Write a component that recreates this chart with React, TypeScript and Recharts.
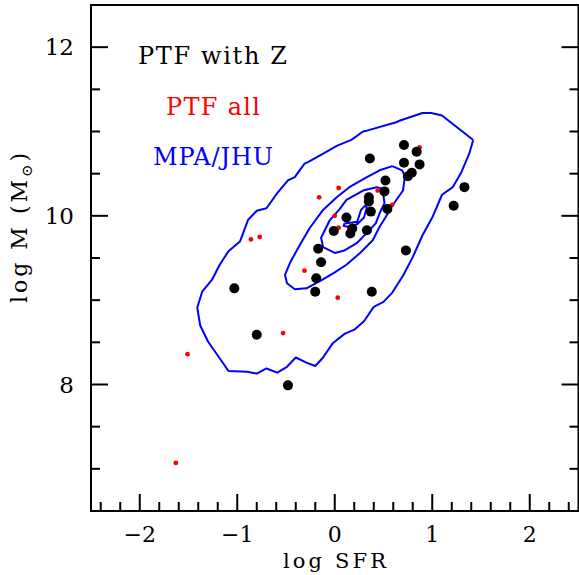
// Star-formation rate vs stellar mass: PTF hosts over the MPA/JHU density contours.

import { Scatter, ScatterChart, XAxis, YAxis } from "recharts";

// PTF hosts with a metallicity measurement (black)
const ptfZSfr = [0.71, 0.84, 0.36, 0.71, 0.87, 0.79, 0.75, 0.52, 0.51, 0.35, 0.35, 0.37, 0.54, 0.12, -0.01, 0.18, 0.16, 0.33, 1.33, 1.22, 0.73, -0.17, -0.14, -0.19, -0.2, 0.38, -1.03, -0.8, -0.48];
const ptfZMass = [10.84, 10.76, 10.68, 10.63, 10.61, 10.51, 10.47, 10.42, 10.29, 10.22, 10.17, 10.05, 10.08, 9.98, 9.82, 9.85, 9.79, 9.83, 10.34, 10.12, 9.59, 9.61, 9.45, 9.26, 9.1, 9.1, 9.14, 8.59, 7.99];

// all PTF hosts (red)
const ptfAllSfr = [0.87, 0.04, -0.16, 0.44, 0.59, 0.0, 0.04, -0.31, 0.03, -0.86, -0.77, -0.53, -1.51, -1.63];
const ptfAllMass = [10.81, 10.33, 10.22, 10.3, 10.13, 10.0, 9.86, 9.35, 9.03, 9.72, 9.75, 8.61, 8.36, 7.07];

// MPA/JHU density contours, [log SFR, log M]
const mpaOuter: [number, number][] = [
  [1.42, 10.9], [1.38, 10.74], [1.3, 10.52], [1.21, 10.34], [1.1, 10.25], [1.0, 9.98], [0.9, 9.77],
  [0.8, 9.51], [0.7, 9.29], [0.59, 9.09], [0.5, 8.98], [0.4, 8.92], [0.3, 8.75], [0.2, 8.65],
  [0.1, 8.6], [-0.02, 8.49], [-0.12, 8.32], [-0.2, 8.22], [-0.29, 8.26], [-0.4, 8.32], [-0.49, 8.21],
  [-0.59, 8.14], [-0.7, 8.19], [-0.8, 8.13], [-0.9, 8.15], [-1.09, 8.16], [-1.3, 8.51], [-1.38, 8.7],
  [-1.41, 8.91], [-1.36, 9.1], [-1.26, 9.24], [-1.18, 9.42], [-1.09, 9.58], [-0.97, 9.7], [-0.89, 9.95],
  [-0.8, 10.06], [-0.7, 10.09], [-0.59, 10.27], [-0.48, 10.42], [-0.41, 10.46], [-0.31, 10.62],
  [-0.27, 10.64], [-0.1, 10.75], [0.02, 10.83], [0.17, 10.9], [0.29, 11.0], [0.33, 11.01], [0.63, 11.11],
  [0.67, 11.13], [0.9, 11.22], [0.99, 11.22], [1.1, 11.19], [1.42, 10.9],
];
const mpaMiddle: [number, number][] = [
  [0.59, 10.59], [0.69, 10.54], [0.72, 10.47], [0.7, 10.3], [0.59, 10.12], [0.52, 9.98], [0.46, 9.87],
  [0.39, 9.71], [0.26, 9.56], [0.12, 9.42], [0.0, 9.33], [-0.13, 9.24], [-0.29, 9.14], [-0.41, 9.13],
  [-0.49, 9.2], [-0.51, 9.3], [-0.46, 9.44], [-0.38, 9.61], [-0.26, 9.85], [-0.12, 10.07], [0.02, 10.22],
  [0.15, 10.34], [0.33, 10.46], [0.46, 10.54], [0.59, 10.59],
];
const mpaInner: [number, number][] = [
  [0.29, 10.3], [0.43, 10.34], [0.49, 10.32], [0.51, 10.15], [0.46, 10.03], [0.42, 9.91], [0.34, 9.81],
  [0.23, 9.68], [0.1, 9.59], [0.0, 9.56], [-0.12, 9.63], [-0.14, 9.74], [-0.05, 9.95], [0.05, 10.08],
  [0.12, 10.19], [0.29, 10.3],
];
const mpaCore: [number, number][] = [
  [0.1, 9.91], [0.23, 9.93], [0.27, 10.07], [0.31, 10.12], [0.33, 10.1], [0.3, 9.98], [0.23, 9.9],
  [0.14, 9.87], [0.09, 9.88], [0.1, 9.91],
];

const sfrLabelled = [-2, -1, 0, 1, 2];
const massLabelled = [8, 10, 12];
const sfrTicks = Array.from({ length: 25 }, (_, i) => Math.round(-24 + i * 2) / 10);
const massTicks = Array.from({ length: 11 }, (_, i) => 7 + i * 0.5);

const INK = "#000";
const RED = "#ff0000";
const BLUE = "#0000ff";
const FONT = "'DejaVu Serif', serif";

const pts = (xs: number[], ys: number[]) => xs.map((x, i) => ({ x, y: ys[i] }));
const path = (p: [number, number][]) => p.map(([x, y]) => ({ x, y }));
const has = (list: number[], v: number) => list.some((t) => Math.abs(t - v) < 1e-6);
const fmt = (v: number) => (v < 0 ? `\u2212${Math.abs(v)}` : `${v}`);

const frame = { stroke: INK, strokeWidth: 2, strokeLinecap: "square" as const };

// inward ticks on both x sides, numbers only along the bottom
function XTick(props: any) {
  const { x, y, payload, side } = props;
  const major = has(sfrLabelled, payload.value);
  const len = major ? 17 : 9;
  const dir = side === "bottom" ? -1 : 1;
  return (
    <g>
      <line x1={x} y1={y} x2={x} y2={y + dir * len} stroke={INK} strokeWidth={2} />
      {side === "bottom" && major && (
        <text x={x} y={y + 31} textAnchor="middle" fontSize={22} fontFamily={FONT} fill={INK}>
          {fmt(payload.value)}
        </text>
      )}
    </g>
  );
}

function YTick(props: any) {
  const { x, y, payload, side } = props;
  const major = has(massLabelled, payload.value);
  const len = major ? 17 : 9;
  const dir = side === "left" ? 1 : -1;
  return (
    <g>
      <line x1={x} y1={y} x2={x + dir * len} y2={y} stroke={INK} strokeWidth={2} />
      {side === "left" && major && (
        <text x={x - 17} y={y + 8} textAnchor="end" fontSize={23} fontFamily={FONT} fill={INK}>
          {payload.value}
        </text>
      )}
    </g>
  );
}

const noDot = () => <g />;
const bigDot = (p: any) => <circle cx={p.cx} cy={p.cy} r={5} fill={INK} />;
const smallDot = (p: any) => <circle cx={p.cx} cy={p.cy} r={2.4} fill={RED} />;

export default function App() {
  const contourLine = { stroke: BLUE, strokeWidth: 2, strokeLinejoin: "round" as const };
  return (
    <div style={{ position: "absolute", left: 0, top: 0, width: 579, height: 575, overflow: "hidden", background: "#fff" }}>
      <ScatterChart width={580} height={575} margin={{ top: 4, right: 0.5, bottom: 63, left: 90 }}>
        <XAxis
          xAxisId="b" orientation="bottom" type="number" dataKey="x" domain={[-2.5, 2.5]} allowDataOverflow
          ticks={sfrTicks} interval={0} tickSize={0} tickMargin={0} height={1} tickLine={false} axisLine={frame}
          tick={(p: any) => <XTick {...p} side="bottom" />}
        />
        <XAxis
          xAxisId="t" orientation="top" type="number" domain={[-2.5, 2.5]} allowDataOverflow
          ticks={sfrTicks} interval={0} tickSize={0} tickMargin={0} height={1} tickLine={false} axisLine={frame}
          tick={(p: any) => <XTick {...p} side="top" />}
        />
        <YAxis
          yAxisId="l" orientation="left" type="number" dataKey="y" domain={[6.5, 12.5]} allowDataOverflow
          ticks={massTicks} interval={0} tickSize={0} tickMargin={0} width={1} tickLine={false} axisLine={frame}
          tick={(p: any) => <YTick {...p} side="left" />}
        />
        <YAxis
          yAxisId="r" orientation="right" type="number" domain={[6.5, 12.5]} allowDataOverflow
          ticks={massTicks} interval={0} tickSize={0} tickMargin={0} width={1} tickLine={false} axisLine={frame}
          tick={(p: any) => <YTick {...p} side="right" />}
        />
        {[mpaOuter, mpaMiddle, mpaInner, mpaCore].map((c, i) => (
          <Scatter
            key={i} xAxisId="b" yAxisId="l" data={path(c)} line={contourLine} lineType="joint"
            shape={noDot} isAnimationActive={false}
          />
        ))}
        <Scatter xAxisId="b" yAxisId="l" data={pts(ptfAllSfr, ptfAllMass)} shape={smallDot} isAnimationActive={false} />
        <Scatter xAxisId="b" yAxisId="l" data={pts(ptfZSfr, ptfZMass)} shape={bigDot} isAnimationActive={false} />
      </ScatterChart>
      <svg width={579} height={575} style={{ position: "absolute", left: 0, top: 0, pointerEvents: "none" }} fontFamily={FONT}>
        <text x={138} y={64} fontSize={24} fill={INK} textLength={149} lengthAdjust="spacing">PTF with Z</text>
        <text x={166} y={115} fontSize={24} fill={RED} textLength={94} lengthAdjust="spacing">PTF all</text>
        <text x={153} y={165} fontSize={24} fill={BLUE} textLength={120} lengthAdjust="spacing">MPA/JHU</text>
        <text x={283} y={568} fontSize={21} fill={INK} textLength={103} lengthAdjust="spacing">log SFR</text>
        <text transform="translate(27 303) rotate(-90)" fontSize={22} fill={INK} letterSpacing={3}>
          log M (M<tspan fontSize={15} dy={5}>{"\u2299"}</tspan><tspan dy={-5}>)</tspan>
        </text>
      </svg>
    </div>
  );
}
